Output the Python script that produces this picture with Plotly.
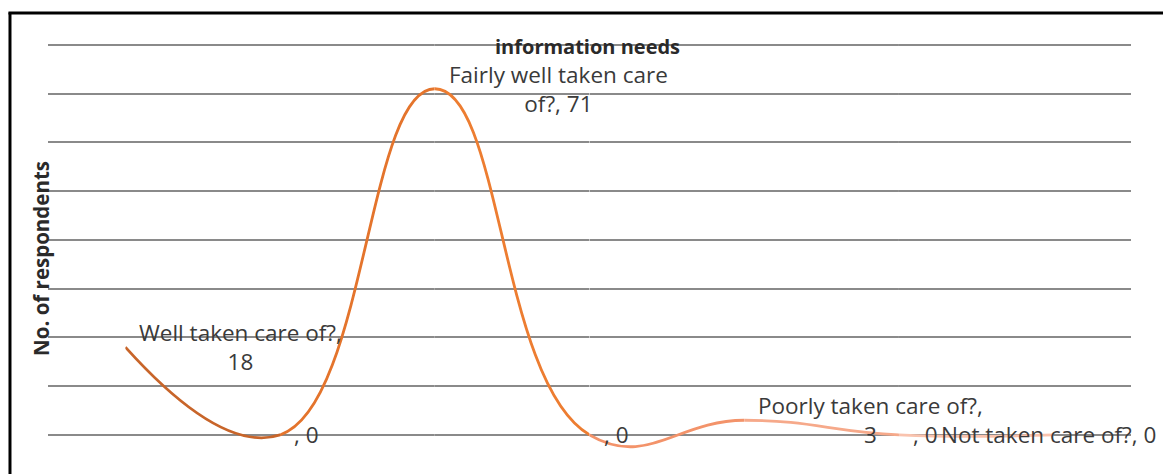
import textwrap
import plotly.graph_objects as go

# Survey responses: how well were information needs taken care of
categories = ["Well taken care of?", "", "Fairly well taken care of?", "",
              "Poorly taken care of?", "", "Not taken care of?"]
values = [18, 0, 71, 0, 3, 0, 0]

title_text = "information needs"
y_title = "No. of respondents"
y_ticks = [0, 10, 20, 30, 40, 50, 60, 70, 80]

# one shade per segment, dark orange fading to pale salmon
segment_colors = ["#c8652a", "#e4742c", "#ed7d31", "#f3936a", "#f6a98a", "#f9c3ae"]

n = len(categories)
idx = list(range(n))
font_family = "Open Sans, Lato, sans-serif"
label_font = dict(family=font_family, size=22.5, color="#3a3a3a")

fig = go.Figure()

# invisible full-width axis that hosts the grid and the labels
fig.add_trace(go.Scatter(x=idx, y=values, mode="lines", line=dict(width=0),
                         hoverinfo="skip", showlegend=False, xaxis="x", yaxis="y"))

layout_axes = {}
for i in range(1, n):
    ax_name = f"xaxis{i + 1}"
    layout_axes[ax_name] = dict(
        domain=[(i - 1 + 0.5) / n, (i + 0.5) / n],
        range=[i - 1, i], anchor="y", visible=False, showgrid=False,
    )
    fig.add_trace(go.Scatter(
        x=idx, y=values, mode="lines",
        line=dict(color=segment_colors[i - 1], width=2.8, shape="spline", smoothing=1.3),
        hoverinfo="skip", showlegend=False, xaxis=f"x{i + 1}", yaxis="y",
    ))

annotations = []
for i, (cat, val) in enumerate(zip(categories, values)):
    text = "<br>".join(textwrap.wrap(f"{cat}, {val}", 22))
    shift = 12
    if i == n - 1:
        shift = -115
    annotations.append(dict(
        x=i, y=val, xref="x", yref="y", text=text, showarrow=False,
        xanchor="left", yanchor="middle", align="center", xshift=shift,
        font=label_font,
    ))

annotations.append(dict(
    x=0.4985, y=0.985, xref="paper", yref="paper", text=f"<b>{title_text}</b>",
    showarrow=False, xanchor="center", yanchor="middle",
    font=dict(family=font_family, size=20, color="#2a2a2a"),
))
annotations.append(dict(
    x=-0.0065, y=0.492, xref="paper", yref="paper", text=f"<b>{y_title}</b>",
    showarrow=False, textangle=-90, xanchor="center", yanchor="middle",
    font=dict(family=font_family, size=20.5, color="#2a2a2a"),
))

shapes = [
    dict(type="line", xref="paper", yref="paper", x0=-0.0351, x1=-0.0351,
         y0=-0.05, y1=1.064, line=dict(color="black", width=3)),
    dict(type="line", xref="paper", yref="paper", x0=-0.0365, x1=1.05,
         y0=1.063, y1=1.063, line=dict(color="black", width=3)),
]

fig.update_layout(
    width=1163, height=474,
    margin=dict(l=48, r=32, t=40, b=5),
    paper_bgcolor="white", plot_bgcolor="white",
    showlegend=False,
    xaxis=dict(domain=[0, 1], range=[-0.5, n - 0.5], visible=False, showgrid=False),
    yaxis=dict(range=[-7, 81], tickvals=y_ticks, showticklabels=False,
               showgrid=True, gridcolor="#8a8a8a", gridwidth=2,
               zeroline=False, showline=False, ticks=""),
    annotations=annotations,
    shapes=shapes,
    **layout_axes,
)

fig.write_html("out.html")
